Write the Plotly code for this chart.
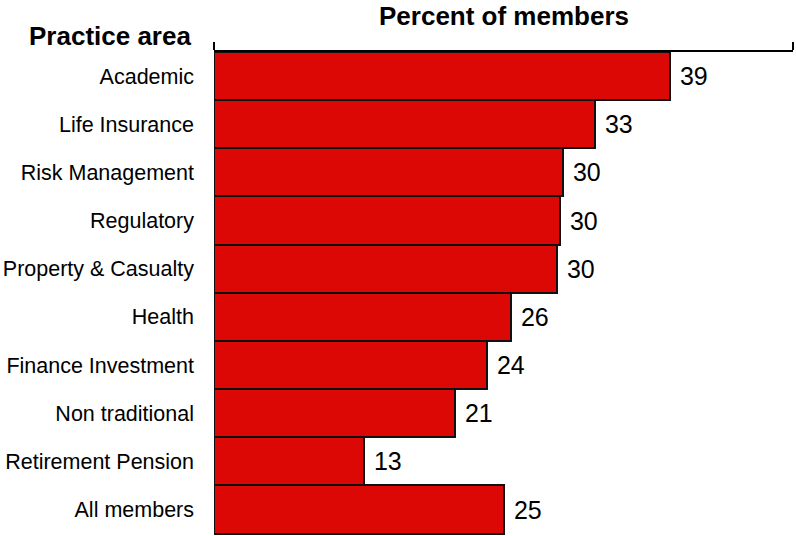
import plotly.graph_objects as go

# Practice areas, top to bottom
categories = [
    "Academic",
    "Life Insurance",
    "Risk Management",
    "Regulatory",
    "Property & Casualty",
    "Health",
    "Finance Investment",
    "Non traditional",
    "Retirement Pension",
    "All members",
]

# Percent of members in each area
percent = [39.38, 32.93, 30.18, 29.92, 29.58, 25.62, 23.56, 20.81, 12.98, 25.02]

axis_max = 50

fig = go.Figure(
    go.Bar(
        x=percent,
        y=categories,
        orientation="h",
        marker=dict(color="#DC0805", line=dict(color="#111111", width=2)),
        texttemplate="\u00a0%{x:.0f}",
        textposition="outside",
        constraintext="none",
        cliponaxis=False,
        textfont=dict(family="Liberation Sans, Arial, sans-serif", size=25, color="#000000"),
        hoverinfo="skip",
    )
)

fig.update_layout(
    width=796,
    height=536,
    margin=dict(l=214, r=3, t=52, b=1),
    paper_bgcolor="white",
    plot_bgcolor="white",
    bargap=0,
    showlegend=False,
    font=dict(family="Liberation Sans, Arial, sans-serif", color="#000000"),
    xaxis=dict(
        range=[0, axis_max],
        side="top",
        showline=True,
        linecolor="#000000",
        linewidth=2,
        showgrid=False,
        zeroline=False,
        ticks="outside",
        tickvals=[0, axis_max],
        ticktext=["", ""],
        ticklen=8,
        tickwidth=2,
        tickcolor="#000000",
        automargin=False,
    ),
    yaxis=dict(
        categoryorder="array",
        categoryarray=categories,
        range=[len(categories) - 0.47, -0.5],
        showline=False,
        showgrid=False,
        zeroline=False,
        ticks="",
        ticklabelstandoff=19,
        automargin=False,
        tickfont=dict(family="Liberation Sans, Arial, sans-serif", size=21.5),
    ),
    annotations=[
        dict(
            text="<b>Percent of members</b>",
            xref="paper", yref="paper",
            x=0.5, y=1,
            xanchor="center", yanchor="middle",
            yshift=36,
            showarrow=False,
            font=dict(family="Liberation Sans, Arial, sans-serif", size=26),
        ),
        dict(
            text="<b>Practice area</b>",
            xref="paper", yref="paper",
            x=0, y=1,
            xanchor="right", yanchor="middle",
            xshift=-21, yshift=16,
            showarrow=False,
            font=dict(family="Liberation Sans, Arial, sans-serif", size=26),
        ),
    ],
)

fig.write_html("out.html")
